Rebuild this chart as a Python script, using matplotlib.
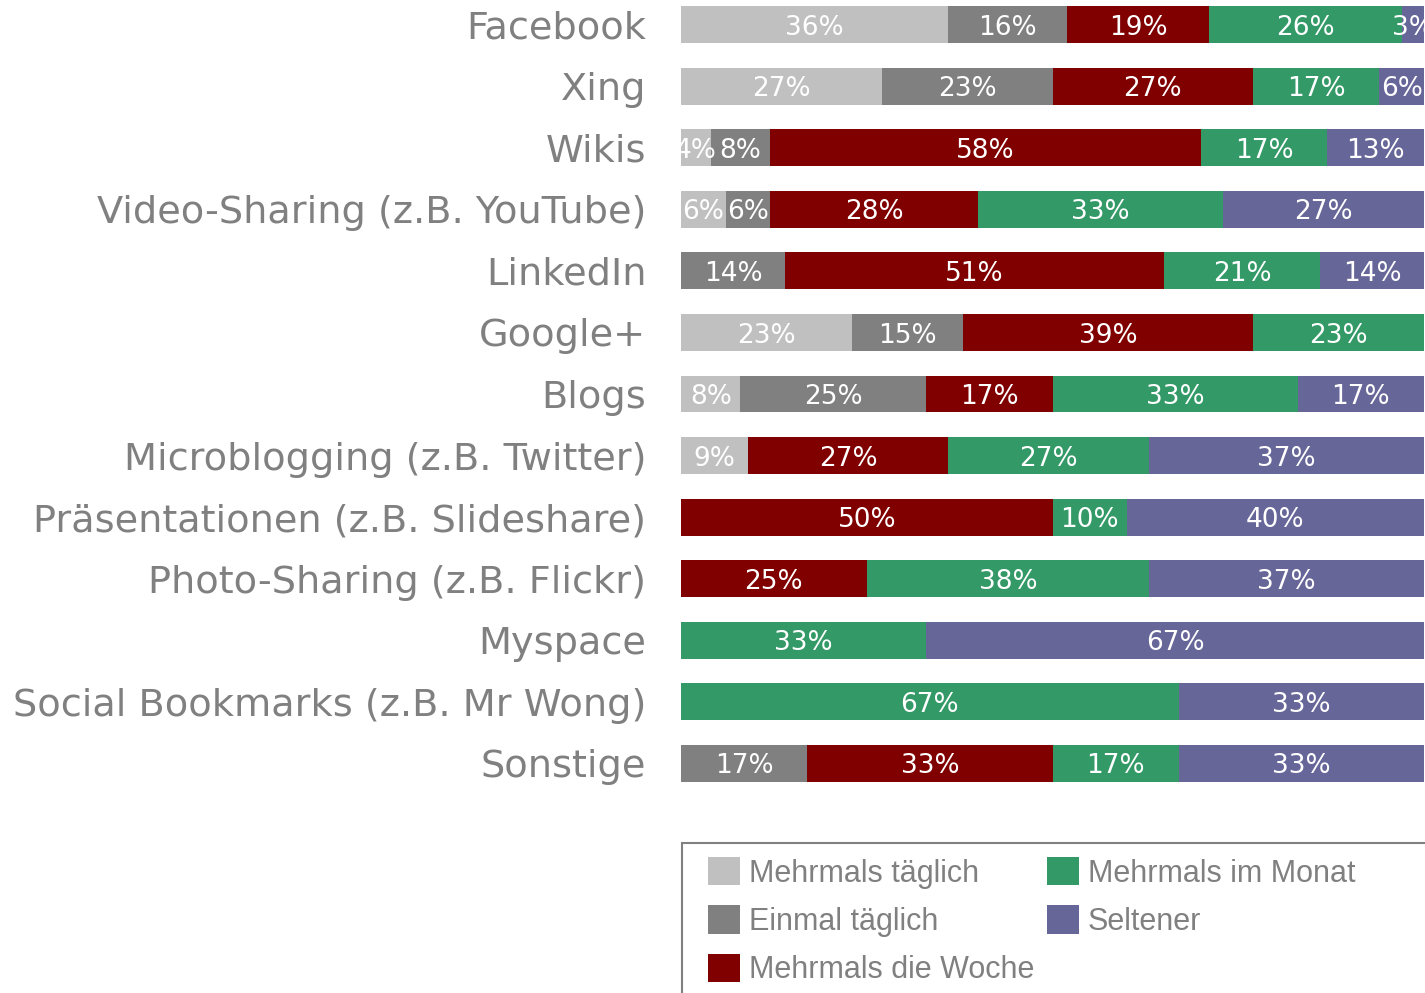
import matplotlib.pyplot as plt
from matplotlib.patches import Rectangle

categories = ["Facebook", "Xing", "Wikis", "Video-Sharing (z.B. YouTube)", "LinkedIn",
              "Google+", "Blogs", "Microblogging (z.B. Twitter)",
              "Präsentationen (z.B. Slideshare)", "Photo-Sharing (z.B. Flickr)",
              "Myspace", "Social Bookmarks (z.B. Mr Wong)", "Sonstige"]
series_names = ["Mehrmals täglich", "Einmal täglich", "Mehrmals die Woche",
                "Mehrmals im Monat", "Seltener"]
mehrmals_taeglich = [36, 27, 4, 6, 0, 23, 8, 9, 0, 0, 0, 0, 0]
einmal_taeglich = [16, 23, 8, 6, 14, 15, 25, 0, 0, 0, 0, 0, 17]
mehrmals_woche = [19, 27, 58, 28, 51, 39, 17, 27, 50, 25, 0, 0, 33]
mehrmals_monat = [26, 17, 17, 33, 21, 23, 33, 27, 10, 38, 33, 67, 17]
seltener = [3, 6, 13, 27, 14, 0, 17, 37, 40, 37, 67, 33, 33]
colors = ["#c0c0c0", "#808080", "#800000", "#339966", "#666699"]

series = [mehrmals_taeglich, einmal_taeglich, mehrmals_woche, mehrmals_monat, seltener]
text_gray = "#808080"
W, H = 1425, 993

fig = plt.figure(figsize=(W / 100, H / 100), dpi=100)
ax = fig.add_axes([681 / W, 1 - 794 / H, (1424 - 681) / W, 800 / H])

ypos = list(range(len(categories)))
left = [0] * len(categories)
handles = []
for name, vals, col in zip(series_names, series, colors):
    bars = ax.barh(ypos, vals, left=left, height=0.6, color=col, label=name)
    handles.append(bars)
    for i, v in enumerate(vals):
        if v > 0:
            ax.text(left[i] + v / 2, i + 0.05, f"{v}%", ha="center", va="center",
                    color="white", fontsize=19)
    left = [a + b for a, b in zip(left, vals)]

ax.set_xlim(0, 100)
ax.set_ylim(len(categories) - 0.5, -0.5)
ax.set_yticks(ypos)
ax.set_yticklabels(categories, fontsize=27.5, color=text_gray)
ax.tick_params(axis="y", length=0, pad=25)
ax.set_xticks([])
for s in ax.spines.values():
    s.set_visible(False)

# legend frame runs off the right and bottom edge like in the original
frame = Rectangle((682 / W, -0.05), 0.6, 1 - 843 / H + 0.05, transform=fig.transFigure,
                  facecolor="none", edgecolor="#808080", linewidth=1.5)
fig.patches.append(frame)

leg = fig.legend(handles=handles, loc="upper left", bbox_to_anchor=(708 / W, 1 - 857 / H),
                 ncol=2, frameon=False, labelcolor=text_gray,
                 handlelength=1.05, handleheight=1.05, handletextpad=0.3, columnspacing=0.4,
                 labelspacing=0.55, borderpad=0, borderaxespad=0,
                 prop={"family": "Liberation Sans", "size": 22})

fig.savefig("out.png", dpi=100)
